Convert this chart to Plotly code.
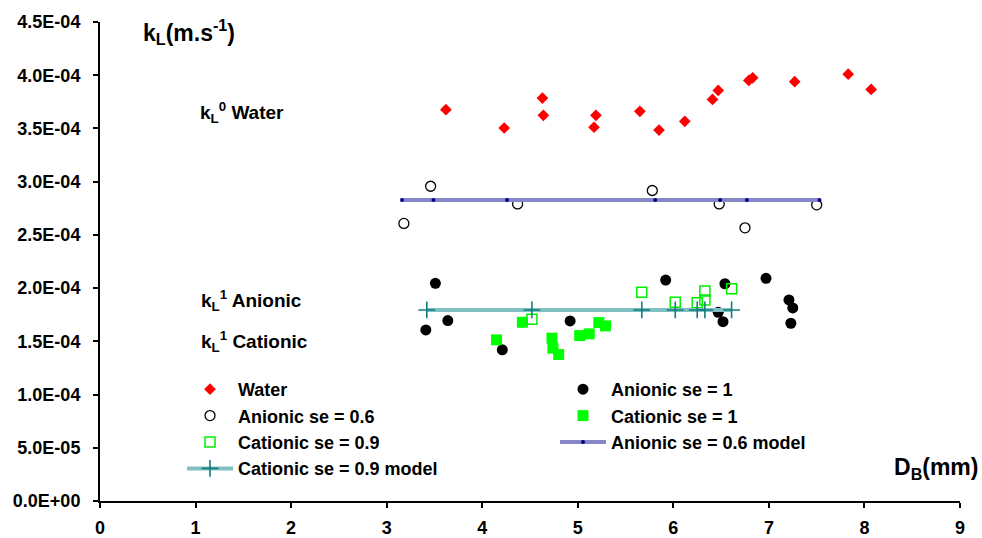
import plotly.graph_objects as go

# ---------------- data ----------------
water_x = [3.62, 4.23, 4.63, 4.64, 5.19, 5.17, 5.65, 5.85, 6.12, 6.41, 6.47, 6.79, 6.83, 7.27, 7.83, 8.07]
water_y = [3.676e-4, 3.504e-4, 3.785e-4, 3.623e-4, 3.623e-4, 3.511e-4, 3.661e-4, 3.485e-4,
           3.567e-4, 3.773e-4, 3.857e-4, 3.951e-4, 3.976e-4, 3.939e-4, 4.010e-4, 3.867e-4]

an1_x = [3.51, 3.64, 3.41, 4.21, 4.92, 5.92, 6.54, 6.47, 6.52, 6.97, 7.21, 7.25, 7.23]
an1_y = [2.045e-4, 1.695e-4, 1.607e-4, 1.420e-4, 1.692e-4, 2.076e-4, 2.041e-4, 1.773e-4,
         1.685e-4, 2.092e-4, 1.889e-4, 1.814e-4, 1.670e-4]

an06_x = [3.46, 3.18, 4.37, 5.78, 6.48, 6.75, 7.50]
an06_y = [2.957e-4, 2.608e-4, 2.791e-4, 2.917e-4, 2.791e-4, 2.566e-4, 2.782e-4]

cat1_x = [4.15, 4.42, 4.73, 4.74, 4.80, 5.02, 5.12, 5.22, 5.29]
cat1_y = [1.514e-4, 1.679e-4, 1.530e-4, 1.436e-4, 1.376e-4, 1.554e-4, 1.570e-4, 1.676e-4, 1.645e-4]

cat09_x = [4.52, 5.67, 6.02, 6.25, 6.33, 6.33, 6.61]
cat09_y = [1.708e-4, 1.961e-4, 1.867e-4, 1.863e-4, 1.973e-4, 1.889e-4, 1.995e-4]

an06_model_x = [3.16, 3.49, 4.26, 5.81, 6.49, 6.77, 7.53]
an06_model_y = [2.827e-4] * 7

cat09_model_x = [3.42, 4.52, 5.67, 6.02, 6.25, 6.33, 6.61]
cat09_model_y = [1.795e-4] * 7

x_tick_vals = [0, 1, 2, 3, 4, 5, 6, 7, 8, 9]
x_tick_text = ["0", "1", "2", "3", "4", "5", "6", "7", "8", "9"]
y_tick_vals = [0, 0.5e-4, 1.0e-4, 1.5e-4, 2.0e-4, 2.5e-4, 3.0e-4, 3.5e-4, 4.0e-4, 4.5e-4]
y_tick_text = ["0.0E+00", "5.0E-05", "1.0E-04", "1.5E-04", "2.0E-04",
               "2.5E-04", "3.0E-04", "3.5E-04", "4.0E-04", "4.5E-04"]

# ---------------- figure ----------------
FONT = "Liberation Sans, Arial, sans-serif"
W, H = 982, 538
ML, MR, MT, MB = 100, 22, 22, 37
PW, PH = W - ML - MR, H - MT - MB

fig = go.Figure()

fig.add_trace(go.Scatter(
    x=water_x, y=water_y, mode="markers", name="Water",
    marker=dict(symbol="diamond", size=9, color="#ff0000"),
    legend="legend", legendrank=1))
fig.add_trace(go.Scatter(
    x=an1_x, y=an1_y, mode="markers", name="Anionic se = 1",
    marker=dict(symbol="circle", size=11, color="#000000"),
    legend="legend2", legendrank=1))
fig.add_trace(go.Scatter(
    x=an06_x, y=an06_y, mode="markers", name="Anionic se = 0.6",
    marker=dict(symbol="circle-open", size=10, color="#000000", line=dict(width=1.3)),
    legend="legend", legendrank=2))
fig.add_trace(go.Scatter(
    x=cat1_x, y=cat1_y, mode="markers", name="Cationic se = 1",
    marker=dict(symbol="square", size=11, color="#00ff00"),
    legend="legend2", legendrank=2))
fig.add_trace(go.Scatter(
    x=cat09_x, y=cat09_y, mode="markers", name="Cationic se = 0.9",
    marker=dict(symbol="square-open", size=10, color="#00ee00", line=dict(width=1.5)),
    legend="legend", legendrank=3))
fig.add_trace(go.Scatter(
    x=an06_model_x, y=an06_model_y, mode="lines+markers", name="Anionic se = 0.6 model",
    line=dict(color="#8787c8", width=4),
    marker=dict(symbol="circle", size=4, color="#000080"),
    legend="legend2", legendrank=3))
fig.add_trace(go.Scatter(
    x=cat09_model_x, y=cat09_model_y, mode="lines+markers", name="Cationic se = 0.9 model",
    line=dict(color="#80c0c0", width=4),
    marker=dict(symbol="cross-thin", size=12, color="#127c80", line=dict(width=1.6, color="#127c80")),
    legend="legend", legendrank=4))

tickfont = dict(family=FONT, size=18, weight="bold", color="black")
legfont = dict(family=FONT, size=18, weight="bold", color="black")

fig.update_layout(
    width=W, height=H,
    margin=dict(l=ML, r=MR, t=MT, b=MB, autoexpand=False),
    paper_bgcolor="white", plot_bgcolor="white",
    showlegend=True,
    xaxis=dict(range=[0, 9], tickvals=x_tick_vals, ticktext=x_tick_text,
               showgrid=False, zeroline=False, showline=True, linecolor="black", linewidth=2,
               ticks="outside", ticklen=5, tickwidth=1.5, tickcolor="black",
               tickfont=tickfont, ticklabelstandoff=4, automargin=False),
    yaxis=dict(range=[0, 4.5e-4], tickvals=y_tick_vals, ticktext=y_tick_text,
               showgrid=False, zeroline=False, showline=True, linecolor="black", linewidth=2,
               ticks="outside", ticklen=5, tickwidth=1.5, tickcolor="black",
               tickfont=tickfont, ticklabelstandoff=9, automargin=False),
    legend=dict(x=182 / W, y=1 - 371 / H, xref="container", yref="container",
                xanchor="left", yanchor="top", bgcolor="rgba(0,0,0,0)",
                font=legfont, itemwidth=46, traceorder="normal", tracegroupgap=0),
    legend2=dict(x=555 / W, y=1 - 371 / H, xref="container", yref="container",
                 xanchor="left", yanchor="top", bgcolor="rgba(0,0,0,0)",
                 font=legfont, itemwidth=46, traceorder="normal", tracegroupgap=0),
)

def ann(text, px, py, size):
    fig.add_annotation(text=text, x=(px - ML) / PW, y=(H - MB - py) / PH,
                       xref="paper", yref="paper",
                       xanchor="left", yanchor="middle", showarrow=False,
                       font=dict(family=FONT, size=size, weight="bold", color="black"))

ann("k<sub>L</sub>(m.s<sup>-1</sup>)", 141, 32, 23)
ann("k<sub>L</sub><sup>0</sup> Water", 198, 112, 19)
ann("k<sub>L</sub><sup>1</sup> Anionic", 199, 300, 19)
ann("k<sub>L</sub><sup>1</sup> Cationic", 199, 341, 19)
ann("D<sub>B</sub>(mm)", 892, 468, 23)

fig.write_html("out.html")
